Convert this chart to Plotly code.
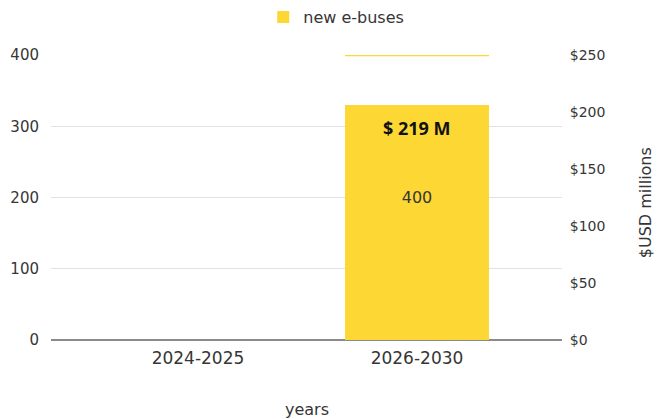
import plotly.graph_objects as go

# data
categories = ["2024-2025", "2026-2030"]
new_ebuses = [0, 400]
cost_usd_millions = [None, 219]
left_ticks = [0, 100, 200, 300, 400]
right_ticks = [0, 50, 100, 150, 200, 250]

BAR = "#FDD835"
TXT = "#363636"
FONT = "DejaVu Sans"

fig = go.Figure()
fig.add_trace(go.Bar(
    x=categories, y=new_ebuses, name="new e-buses",
    marker=dict(color=BAR, line=dict(width=0)),
    width=0.653,
    text=[str(v) if v else "" for v in new_ebuses],
    textposition="inside", insidetextanchor="middle", textangle=0,
    textfont=dict(family=FONT, size=16, color=TXT),
))
# invisible trace to anchor right axis
fig.add_trace(go.Scatter(x=categories, y=[0, 0], yaxis="y2", mode="markers",
                         marker=dict(opacity=0), showlegend=False, hoverinfo="skip"))

# white cover over upper part of the bar (as in the reference picture)
fig.add_shape(type="rect", xref="x", yref="y", x0=0.62, x1=1.36, y0=330, y1=398.3,
              fillcolor="white", line=dict(width=0), layer="above")

for c, v in zip(categories, cost_usd_millions):
    if v is not None:
        fig.add_annotation(x=c, y=297, xref="x", yref="y", text=f"<b>$ {v} M</b>",
                           showarrow=False, font=dict(family="Open Sans", size=18, color="#111"))

fig.add_annotation(x=0.5, y=-0.285, xref="paper", yref="paper", text="years",
                   showarrow=False, font=dict(family=FONT, size=16, color=TXT))
fig.add_annotation(x=1.185, y=0.48, xref="paper", yref="paper", text="$USD millions",
                   textangle=-90, showarrow=False, font=dict(family=FONT, size=16, color=TXT))

fig.update_layout(
    width=658, height=419,
    margin=dict(l=51, r=96, t=55, b=79, autoexpand=False),
    paper_bgcolor="white", plot_bgcolor="white",
    bargap=0,
    showlegend=True,
    legend=dict(orientation="h", xref="container", yref="container",
                x=0.511, xanchor="center", y=0.959, yanchor="middle",
                font=dict(family=FONT, size=16, color=TXT)),
    xaxis=dict(type="category", range=[-0.671, 1.662], showgrid=False, zeroline=False,
               showline=False, ticks="outside", ticklen=3, tickcolor="rgba(0,0,0,0)",
               tickfont=dict(family=FONT, size=17, color=TXT), fixedrange=True),
    yaxis=dict(range=[0, 400], tickvals=left_ticks, showgrid=True, gridcolor="#e2e2e2",
               gridwidth=1, zeroline=True, zerolinecolor="#8a8a8a", zerolinewidth=2,
               ticks="outside", ticklen=8, tickcolor="rgba(0,0,0,0)",
               tickfont=dict(family=FONT, size=15, color=TXT)),
    yaxis2=dict(range=[0, 250], tickvals=right_ticks, ticktext=[f"${v}" for v in right_ticks],
                overlaying="y", side="right", showgrid=False, zeroline=False, ticks="outside",
                ticklen=4, tickcolor="rgba(0,0,0,0)", tickfont=dict(family=FONT, size=14, color=TXT)),
)

fig.write_html("out.html")
